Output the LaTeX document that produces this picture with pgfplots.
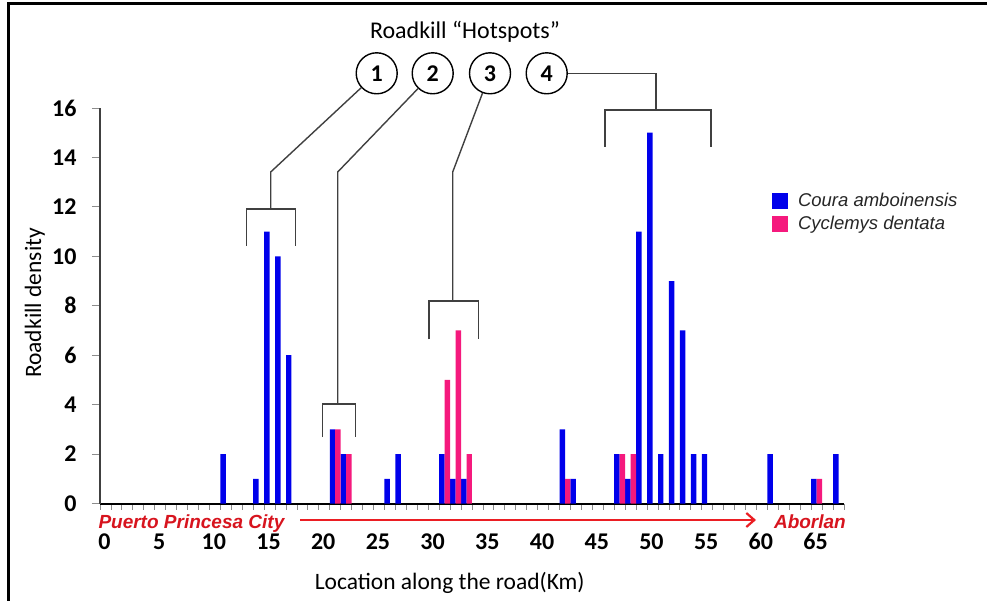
\documentclass[border=0pt]{standalone}
\usepackage{pgfplots}
\pgfplotsset{compat=1.18}
\usepackage{fontspec}
\setmainfont{Carlito}
\newfontfamily\arialfont{Liberation Sans}
\usetikzlibrary{arrows.meta}
\definecolor{cblue}{RGB}{0,0,235}
\definecolor{cpink}{RGB}{245,25,125}
\definecolor{redtxt}{RGB}{215,20,30}
\definecolor{redarrow}{RGB}{235,30,35}
\definecolor{brk}{RGB}{64,64,64}
\begin{document}
\begin{tikzpicture}
\useasboundingbox (0pt,0pt) rectangle (987pt,-601pt);
\begin{axis}[
  at={(100pt,-503.5pt)}, anchor=south west,
  scale only axis, width=744pt, height=395.5pt,
  xmin=0, xmax=68, ymin=0, ymax=16,
  axis x line*=bottom, axis y line*=left,
  x axis line style={black, line width=2pt, -},
  y axis line style={black!75, line width=1.2pt, -},
  ybar, bar width=5.47pt,
  xtick={0,5,...,65},
  minor xtick={0,1,...,68},
  tick align=outside,
  major x tick style={draw=none},
  minor x tick style={black!45, line width=0.8pt},
  minor tick length=6pt,
  ytick={0,2,...,16},
  major y tick style={black!45, line width=0.8pt},
  major tick length=8pt,
  /pgf/number format/assume math mode=true,
  tick label style={font=\bfseries\fontsize{24}{24}\selectfont},
  xticklabel style={anchor=center, xshift=4.4pt, yshift=-30pt},
  yticklabel style={anchor=east, xshift=-12pt},
  xlabel={Location along the road(Km)},
  ylabel={Roadkill density},
  label style={font=\fontsize{23.5}{23.5}\selectfont},
  xlabel style={at={(rel axis cs:0.47,0)}, anchor=center, yshift=-79.5pt},
  ylabel style={at={(rel axis cs:-0.0874,0.507)}, anchor=center},
  legend style={at={(rel axis cs:0.903,0.79)}, anchor=north west, draw=none, fill=none,
    inner sep=0pt, row sep=4pt, font=\arialfont\itshape\fontsize{18.5}{18.5}\selectfont,
    text=black!85, /tikz/every odd column/.append style={column sep=8pt}},
  legend cell align=left,
]
\addplot[fill=cblue, draw=none, bar shift=2.735pt,
  legend image code/.code={\fill[cblue] (0pt,-8pt) rectangle (16pt,8pt);}]
  coordinates {(11,2) (14,1) (15,11) (16,10) (17,6) (21,3) (22,2) (26,1) (27,2)
  (31,2) (32,1) (33,1) (42,3) (43,1) (47,2) (48,1) (49,11) (50,15) (51,2)
  (52,9) (53,7) (54,2) (55,2) (61,2) (65,1) (67,2)};
\addplot[fill=cpink, draw=none, bar shift=8.2pt,
  legend image code/.code={\fill[cpink] (0pt,-8pt) rectangle (16pt,8pt);}]
  coordinates {(21,3) (22,2) (31,5) (32,7) (33,2) (42,1) (47,2) (48,2) (65,1)};
\legend{Coura amboinensis, Cyclemys dentata}
\end{axis}
\begin{scope}[x=1pt,y=-1pt]
\draw[line width=3.3pt] (8.5,605) -- (8.5,3.5) -- (992,3.5);
\node[font=\fontsize{24}{24}\selectfont] at (465,31.7) {Roadkill ``Hotspots''};
\foreach \n/\cx in {1/376.7, 2/432.7, 3/490, 4/546.7}
  \node[circle, draw, line width=1.4pt, minimum size=41pt, inner sep=0pt,
        font=\bfseries\fontsize{24}{24}\selectfont] (c\n) at (\cx,73.3) {\n};
\draw[brk, line width=1.4pt] (246.7,246) -- (246.7,209) -- (295.7,209) -- (295.7,246);
\draw[brk, line width=1.4pt] (270.7,209) -- (270.7,172) -- (c1);
\draw[brk, line width=1.4pt] (322.7,437) -- (322.7,404) -- (355.3,404) -- (355.3,437);
\draw[brk, line width=1.4pt] (337.7,404) -- (337.7,172) -- (c2);
\draw[brk, line width=1.4pt] (429,339.3) -- (429,301) -- (478.3,301) -- (478.3,339.3);
\draw[brk, line width=1.4pt] (452.7,301) -- (452.7,172) -- (c3);
\draw[brk, line width=1.4pt] (605,146.7) -- (605,110) -- (711,110) -- (711,146.7);
\draw[brk, line width=1.4pt] (656,110) -- (656,73.3) -- (c4);
\node[anchor=base west, text=redtxt, inner sep=0pt,
      font=\arialfont\bfseries\itshape\fontsize{19}{19}\selectfont] at (98.3,528.3) {Puerto Princesa City};
\node[anchor=base east, text=redtxt, inner sep=0pt,
      font=\arialfont\bfseries\itshape\fontsize{19}{19}\selectfont] at (846,528.3) {Aborlan};
\draw[redarrow, line width=2.2pt, -{Straight Barb[length=8pt,width=14pt]}] (300,520) -- (756,520);
\end{scope}
\end{tikzpicture}
\end{document}
